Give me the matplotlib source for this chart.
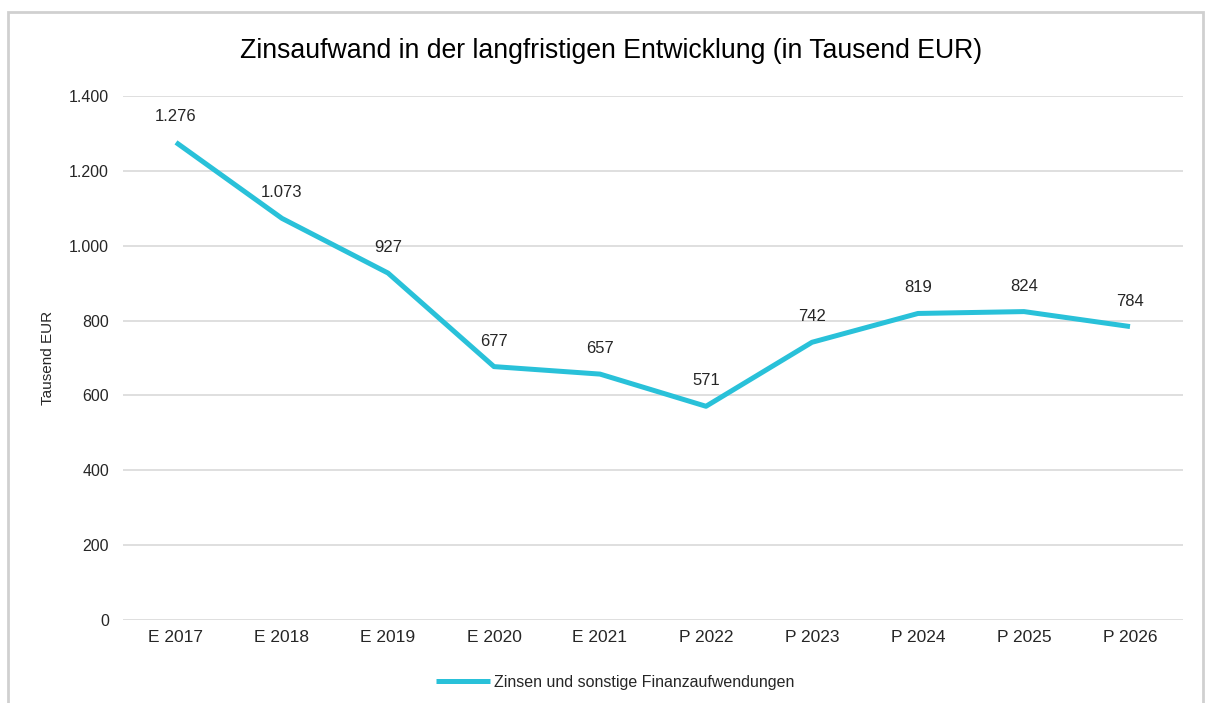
import matplotlib.pyplot as plt
from matplotlib.patches import Rectangle

plt.rcParams['font.family'] = ['Liberation Sans', 'DejaVu Sans']

# Zinsaufwand in Tausend EUR
jahre = ['E 2017', 'E 2018', 'E 2019', 'E 2020', 'E 2021',
         'P 2022', 'P 2023', 'P 2024', 'P 2025', 'P 2026']
zinsen = [1276, 1073, 927, 677, 657, 571, 742, 819, 824, 784]
y_ticks = [0, 200, 400, 600, 800, 1000, 1200, 1400]

line_color = '#29c1d9'
text_color = '#262626'


def de_format(v):
    # German thousands separator
    return f'{v:,}'.replace(',', '.')


fig = plt.figure(figsize=(12.06, 7.03), dpi=100)
ax = fig.add_axes([123 / 1206, 1 - 620 / 703, 1060 / 1206, 524 / 703])

x = range(len(jahre))
ax.plot(x, zinsen, color=line_color, linewidth=3.6, solid_capstyle='butt',
        solid_joinstyle='round', label='Zinsen und sonstige Finanzaufwendungen')

for i, v in enumerate(zinsen):
    ax.annotate(de_format(v), (i, v), xytext=(0, 13), textcoords='offset points',
                ha='center', va='bottom', fontsize=12, color=text_color)

ax.set_xlim(-0.5, len(jahre) - 0.5)
ax.set_ylim(0, 1400)
ax.set_yticks(y_ticks)
ax.set_yticklabels([de_format(t) for t in y_ticks])
ax.set_xticks(list(x))
ax.set_xticklabels(jahre)
ax.tick_params(axis='both', length=0, labelcolor=text_color)
ax.tick_params(axis='y', pad=10, labelsize=11.5)
ax.tick_params(axis='x', pad=7, labelsize=12.5)
ax.grid(axis='y', color='#d9d9d9', linewidth=1.2)
ax.set_axisbelow(True)
for s in ax.spines.values():
    s.set_visible(False)

ax.set_ylabel('Tausend EUR', fontsize=11, color=text_color)
ax.yaxis.set_label_coords(-68 / 1060, 0.5)

fig.text(611 / 1206, 1 - 51 / 703, 'Zinsaufwand in der langfristigen Entwicklung (in Tausend EUR)',
         ha='center', va='center', fontsize=19.2, color='black')

leg = fig.legend(loc='center', bbox_to_anchor=(615 / 1206, 1 - 682 / 703), frameon=False,
                 fontsize=11.5, handlelength=3.4, handletextpad=0.2)
for t in leg.get_texts():
    t.set_color(text_color)

# outer frame of the chart area
fig.patches.append(Rectangle((8 / 1206, -0.01), 1195 / 1206, 1 - 12 / 703 + 0.01,
                             transform=fig.transFigure, fill=False,
                             edgecolor='#d0d0d0', linewidth=2))

fig.savefig('out.png', dpi=100)
